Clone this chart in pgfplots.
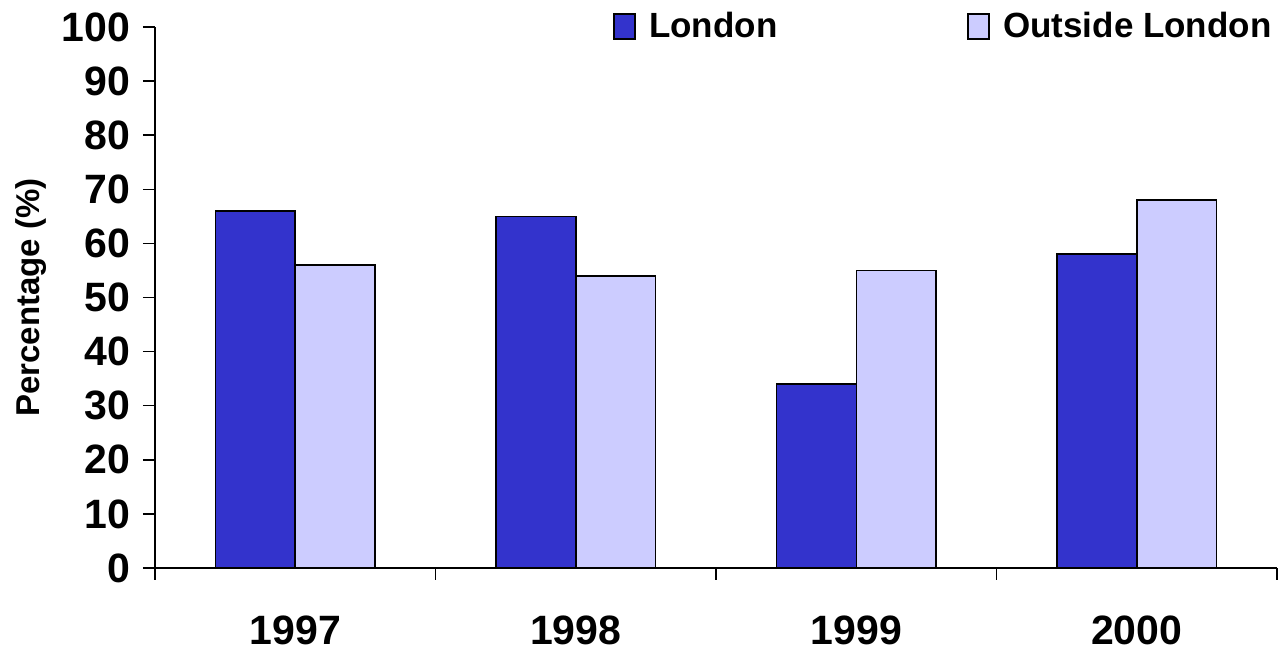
\documentclass[border=0pt]{standalone}
\usepackage{fontspec}
\setmainfont{Liberation Sans}
\usepackage{pgfplots}
\pgfplotsset{compat=1.18}
\definecolor{london}{RGB}{51,51,204}
\definecolor{outside}{RGB}{204,204,255}

\begin{document}
\begin{tikzpicture}
\begin{axis}[
    at={(0,0)}, anchor=south west,
    scale only axis, width=561pt, height=270.5pt,
    xmin=-0.5, xmax=3.5, ymin=0, ymax=100,
    enlargelimits=false,
    axis lines=left,
    axis line style={-, line width=0.75pt},
    ybar=0pt, bar width=0.285,
    xtick={0,1,2,3},
    xticklabels={1997,1998,1999,2000},
    minor xtick={-0.5,0.5,1.5,2.5,3.5},
    ytick={0,10,...,100},
    tick align=outside,
    major tick length=6pt, minor tick length=6pt,
    tick style={black, line width=0.75pt},
    major x tick style={draw=none},
    /pgf/number format/assume math mode=true,
    ticklabel style={font=\fontsize{20.5}{24}\selectfont\bfseries},
    xticklabel style={yshift=-14.5pt},
    yticklabel style={xshift=-3pt},
    ylabel={Percentage (\%)},
    ylabel style={font=\fontsize{16.5}{19}\selectfont\bfseries,
        at={(axis description cs:-0.1105,0.5)}, anchor=center},
    legend columns=2,
    legend style={draw=none, fill=none, inner sep=0pt,
        at={(axis description cs:0.4082,1.001)}, anchor=west,
        font=\fontsize{17.5}{21}\selectfont\bfseries,
        /tikz/every even column/.append style={column sep=93pt}},
    legend image code/.code={
        \draw[#1, draw=black, line width=0.75pt] (0pt,-6.25pt) rectangle (10.5pt,6.25pt);
        \path[draw=none, fill=none] (0pt,0pt) rectangle (15.5pt,0.1pt);},
]
\addplot[fill=london, draw=black, line width=0.75pt, bar shift=-0.1425] coordinates {
    (0,66) (1,65) (2,34) (3,58)
};
\addplot[fill=outside, draw=black, line width=0.75pt, bar shift=0.1425] coordinates {
    (0,56) (1,54) (2,55) (3,68)
};
\legend{London, Outside London}
\end{axis}
\pgfresetboundingbox
\useasboundingbox (-77.5pt,-41.5pt) rectangle (562.5pt,284pt);
\end{tikzpicture}
\end{document}
